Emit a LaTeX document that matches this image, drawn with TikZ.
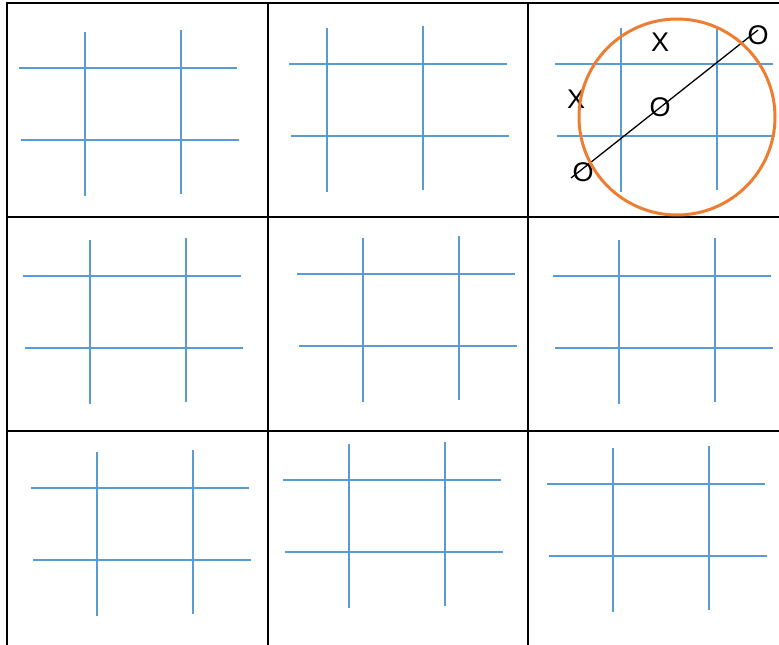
\documentclass[tikz,border=0pt]{standalone}
\usepackage{fontspec}
\setmainfont{Liberation Sans}
\usepackage{xcolor}
\usepackage{tikz}
\usetikzlibrary{positioning}
\definecolor{GridBlue}{HTML}{5B9BD5}
\definecolor{RingOrange}{HTML}{ED7D31}
\newcommand{\symfont}{\fontsize{27pt}{32pt}\selectfont}

\begin{document}
\begin{tikzpicture}[
            x=1pt, y=-1pt,
            tableline/.style={draw=black, line width=2.6pt},
            gridline/.style={draw=GridBlue, line width=1.8pt},
            sym/.style={inner sep=0pt, text=black, font=\symfont},
            winline/.style={draw=black, line width=1.3pt},
            ring/.style={draw=RingOrange, line width=3pt}
        ]
            \useasboundingbox (0,0) rectangle (779,645);

            % table
            \draw[tableline] (7,646) -- (7,3) -- (780,3);
            \draw[tableline] (268,3) -- (268,646);
            \draw[tableline] (528,3) -- (528,646);
            \draw[tableline] (7,217) -- (780,217);
            \draw[tableline] (7,431) -- (780,431);

            % one hand-drawn board per cell
            \foreach \hx/\hy/\vx in {19/68/85, 289/64/327, 555/64/621,
                                     23/276/90, 297/274/363, 553/276/619,
                                     31/488/97, 283/480/349, 547/484/613}{
                \draw[gridline] (\hx,\hy) -- (\hx+218,\hy);
                \draw[gridline] (\hx+2,\hy+72) -- (\hx+220,\hy+72);
                \draw[gridline] (\vx,\hy-36) -- (\vx,\hy+128);
                \draw[gridline] (\vx+96,\hy-38) -- (\vx+96,\hy+126);
            }

            % moves in the top right board
            \node[sym] at (660, 42) (xtop) {X};
            \node[sym] at (576, 99) (xleft) {X};
            \node[sym] at (660, 107) (omid) {O};
            \node[sym] at (758, 35) (otop) {O};
            \node[sym] at (583, 172) (olow) {O};

            \coordinate (winstart) at (571, 178);
            \coordinate (winend) at (758, 30);
            \draw[winline] (winstart) -- (winend);

            \node[ring, circle, minimum size=196pt, inner sep=0pt] at (677, 117) (ring) {};

        \end{tikzpicture}
\end{document}
